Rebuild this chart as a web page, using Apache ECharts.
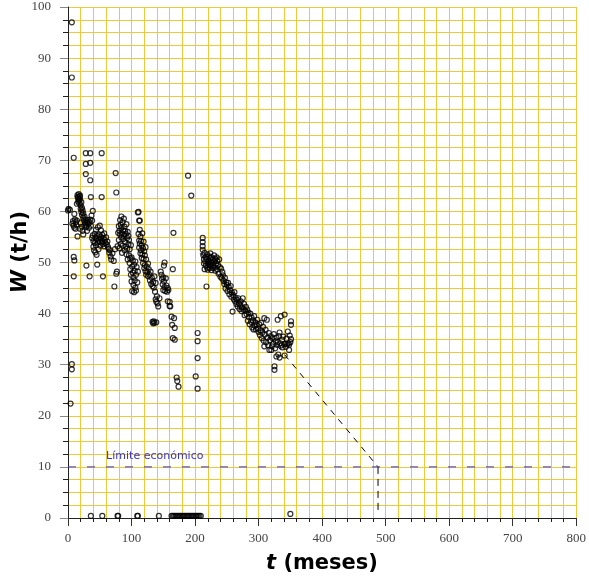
<!DOCTYPE html>
<html>
<head>
<meta charset="utf-8">
<script src="https://cdn.jsdelivr.net/npm/echarts@6/dist/echarts.min.js"></script>
<style>
    html, body {margin: 0; padding: 0; background: #fff;}
    #container {width: 589px; height: 578px;}
</style>
</head>
<body>
<div id="container"></div>
<script>
// axes
var xMax = 800, xStep = 100, xGridStep = 20;
var yMax = 100, yStep = 10, yGridStep = 2.5;

// mediciones (t, W)
var ptsInicio = [
    [0,60.2],[1,60.5],[3,60.3],[4,22.4],[6,30.1],[6,29.1],[6,86.2],[6,97],[9,70.5],[10,59.5],[9,51.1],[10,50.4],[9,47.3],
    [7,57.6],[8,58.1],[9,57.2],[10,56.8],[11,58.4],[12,57.9],[12,56.6],[13,57.4],[14,58.2],[14,61.5],[15,62.8],[15,63.2],
    [16,62.6],[16,61.9],[17,63.4],[17,62.2],[18,62.9],[18,61.6],[19,63.1],[19,62.4],[20,61.2],[20,60.5],[21,61.8],[21,59.9],
    [22,60.7],[22,59.3],[23,60.2],[24,58.8],[24,59.6],[25,58.2],[26,57.4],[26,59.0],[27,57.8],[28,56.9],[28,58.4],[29,57.2],
    [30,57.9],[30,56.2],[31,58.3],[32,57.5],[33,56.8],[34,57.9],[35,58.4],[36,57.2],[19,56.6],[20,57.8],[22,57.0],[23,56.2],
    [24,55.5],[15,55.1],[28,71.4],[28,69.3],[28,67.3],[35,71.4],[35,69.5],[35,66.1],[36,62.8],[34,47.3],[29,49.4],[38,58.2],
    [39,60.1],[37,59.2]
];
var ptsA = [
    [38,54.8],[39,55.3],[40,54.2],[40,53.1],[41,52.4],[42,55.6],[42,53.8],[43,54.9],[43,52.0],[44,56.4],[44,53.4],[45,54.6],
    [45,51.5],[46,55.2],[46,49.6],[47,53.9],[47,56.9],[48,54.5],[48,52.6],[49,55.5],[50,54.1],[50,57.2],[51,53.3],[51,55.0],
    [52,54.7],[52,56.3],[53,53.9],[53,62.8],[53,71.4],[54,55.4],[54,54.2],[55,53.6],[55,47.3],[56,54.8],[57,53.2],[57,55.7],
    [58,54.4],[59,53.8],[60,54.9],[61,53.5],[62,54.1],[63,53.0],[64,52.6],[65,51.9],[66,52.4],[67,51.2],[68,50.6],[70,51.8],
    [72,50.3],[73,45.3],[74,52.6],[76,47.8],[77,48.2],[75,67.5],[76,63.7]
];
var ptsB = [
    [78,53.2],[79,55.8],[80,57.1],[80,54.4],[81,56.2],[81,52.8],[82,58.3],[82,55.5],[83,57.4],[83,53.6],[84,59.0],[84,56.8],
    [84,54.9],[85,55.7],[85,51.9],[86,57.9],[86,53.3],[87,56.3],[87,54.6],[88,58.6],[88,55.2],[89,52.4],[89,57.0],[90,54.0],
    [90,56.2],[91,53.1],[91,55.6],[92,57.5],[92,51.6],[93,54.8],[93,52.7],[94,56.0],[94,50.6],[95,53.6],[95,55.2],[96,51.4],
    [96,54.4],[97,49.9],[97,52.6],[98,50.8],[98,48.7],[99,53.4],[99,47.6],[100,51.0],[100,46.3],[101,49.2],[101,44.4],
    [102,48.0],[102,50.4],[103,45.6],[103,47.1],[104,44.2],[104,49.6],[105,46.5],[105,48.4],[106,45.1],[106,50.2],[107,47.6],
    [107,44.5],[108,49.1],[109,46.1],[110,48.2],[110,59.8],[111,59.9],[112,58.2],[113,58.2]
];
var ptsC = [
    [111,55.6],[112,54.3],[112,52.9],[113,56.4],[113,53.7],[114,55.1],[114,51.8],[115,54.2],[115,52.4],[116,53.3],[116,50.9],
    [117,55.7],[117,51.6],[118,52.8],[118,49.9],[119,54.1],[119,50.7],[120,52.2],[120,48.9],[121,51.4],[121,49.5],[122,53.0],
    [122,48.3],[123,50.6],[123,47.6],[124,49.2],[125,48.1],[126,47.3],[126,49.8],[127,48.7],[128,47.6],[129,46.5],[130,48.2],
    [131,45.8],[132,47.0],[133,45.4],[134,46.2],[135,45.1],[136,47.3],[137,44.3],[138,46.0],[133,38.4],[134,38.1],[135,38.5],
    [136,38.2],[138,42.8],[139,42.3],[140,43.4],[141,42.0],[142,41.4],[144,43.0],[139,38.3],
    [146,48.2],[147,47.6],[148,46.8],[149,45.7],[150,44.6],[150,47.1],[151,49.4],[151,46.3],[152,50.0],[152,45.2],[153,44.4],
    [154,46.9],[155,45.5],[156,44.3],[157,45.0],[157,42.4],[158,44.6],[160,41.5],[160,42.3],[161,41.4],[163,39.4],[164,37.8],
    [165,48.7],[165,35.2],[166,55.8],[167,39.1],[168,37.2],[168,34.9],[171,27.5],[172,26.8],[174,25.7]
];
var ptsD = [
    [189,67.0],[194,63.1],[201,27.7],[204,25.3],[204,36.2],[204,34.6],[204,31.3],[212,54.8],[212,54.0],[212,53.2],[212,52.5],
    [213,51.4],[214,50.6],[214,49.8],[215,51.9],[215,48.7],[216,50.2],[217,49.4],[217,51.1],[218,45.3],[218,50.7],[219,49.0],
    [219,51.6],[220,50.1],[220,48.6],[221,49.7],[222,51.2],[222,50.4],[223,48.9],[223,49.6],[224,50.8],[224,51.8],[225,49.3],
    [225,50.0],[226,48.5],[226,51.0],[227,49.9],[228,50.6],[228,48.9],[229,49.5],[230,51.4],[230,50.2],[231,49.0],[232,50.7],
    [232,48.4],[233,49.8],[234,51.0],[235,50.3],[235,48.7],[236,49.5],[237,47.8],[238,50.6],[239,49.1],[240,47.2],[241,48.8],
    [242,46.9],[243,48.1],[244,47.5],[245,46.4],[246,45.8],[247,47.0],[248,44.9],[249,46.1]
];
var ptsE = [
    [250,45.6],[251,44.4],[252,46.0],[253,45.2],[254,43.8],[255,44.6],[256,45.4],[257,43.3],[258,44.1],[259,40.4],[260,43.6],
    [261,42.8],[262,44.2],[263,42.4],[264,43.1],[265,41.9],[266,42.7],[267,41.4],[268,43.0],[269,42.0],[270,40.9],[271,41.7],
    [272,42.4],[273,40.5],[274,41.2],[275,43.0],[276,40.8],[277,41.9],[278,39.7],[279,40.6],[280,41.3],[281,39.9],[282,40.8],
    [283,38.6],[284,40.2],[285,39.3],[286,37.9],[287,40.0],[288,38.4],[289,39.2],[290,37.3],[291,38.7],[292,36.9],[293,39.5],
    [294,37.6],[295,38.3],[296,36.9],[297,37.8],[298,38.8],[299,37.1],[300,36.4]
];
var ptsF = [
    [301,37.9],[302,35.8],[303,36.7],[304,38.2],[305,35.2],[306,36.3],[307,37.4],[308,34.7],[309,39.1],[309,33.6],[310,35.9],
    [311,36.8],[312,34.4],[313,38.8],[314,35.3],[315,33.8],[316,36.2],[317,32.9],[318,34.8],[319,35.6],[320,32.9],[321,33.6],
    [322,35.2],[323,34.1],[324,36.0],[325,29.7],[325,29.0],[326,33.2],[327,34.6],[328,31.6],[328,35.3],[329,33.9],[330,38.8],
    [330,34.4],[331,32.0],[332,35.6],[333,36.3],[333,31.4],[334,34.2],[335,39.5],[336,33.8],[337,34.9],[338,33.4],[339,35.5],
    [340,34.0],[341,31.8],[341,39.8],[342,34.1],[343,33.5],[344,35.1],[345,34.0],[346,36.5],[347,34.2],[348,32.9],[348,33.9],
    [349,35.7],[350,34.4],[351,37.8],[351,38.5],[351,35.0]
];
// paradas (W ~ 0)
var ptsCero = [
    [36,0.4],[54,0.4],[78,0.4],[79,0.4],[109,0.4],[110,0.4],[143,0.4],[163,0.4],[165,0.4],[167,0.4],[169,0.4],[171,0.4],
    [173,0.4],[175,0.4],[177,0.4],[179,0.4],[181,0.4],[183,0.4],[185,0.4],[187,0.4],[189,0.4],[191,0.4],[193,0.4],[195,0.4],
    [197,0.4],[199,0.4],[201,0.4],[203,0.4],[205,0.4],[207,0.4],[209,0.4],[350,0.8]
];

// tendencia y limite economico
var tendencia = [[208, 51.8], [488, 10]];
var caida = [[488, 10], [488, 0.8]];
var limite = 10;
var limiteTexto = 'Límite económico';

var dom = document.getElementById("container");
var myChart = echarts.init(dom);

var gridColor = '#F0C83C';
var puntos = {
    type: 'scatter',
    symbol: 'circle',
    symbolSize: 5,
    itemStyle: {color: 'rgba(255,255,255,0)', borderColor: '#000', borderWidth: 1.2},
    z: 5
};
var series = [ptsInicio, ptsA, ptsB, ptsC, ptsD, ptsE, ptsF, ptsCero].map(function (d) {
    return Object.assign({}, puntos, {data: d});
});
series.push({
    type: 'line', data: tendencia, symbol: 'none', silent: true, z: 3,
    lineStyle: {color: '#000', width: 1, type: [6, 6]}
});
series.push({
    type: 'line', data: caida, symbol: 'none', silent: true, z: 3,
    lineStyle: {color: '#000', width: 1, type: [7, 5]}
});
series.push({
    type: 'line', data: [[0, limite], [xMax, limite]], symbol: 'none', silent: true, z: 3,
    lineStyle: {color: '#3434D0', width: 1, type: [8, 11]}
});

var option = {
    animation: false,
    grid: {left: 68, right: 12, top: 7, bottom: 60, containLabel: false},
    xAxis: [
        {
            // rejilla fina
            type: 'value', min: 0, max: xMax, interval: xGridStep,
            axisLine: {onZero: false, lineStyle: {color: '#222', width: 1}},
            axisTick: {length: 4, lineStyle: {color: '#222'}},
            splitLine: {show: true, lineStyle: {color: gridColor, width: 1}},
            axisLabel: {show: false}
        },
        {
            type: 'value', min: 0, max: xMax, interval: xStep, position: 'bottom',
            axisLine: {show: false},
            axisTick: {show: true, length: 8, lineStyle: {color: '#333'}},
            splitLine: {show: false},
            axisLabel: {margin: 14, color: '#444', fontFamily: 'Liberation Serif', fontSize: 13}
        }
    ],
    yAxis: [
        {
            type: 'value', min: 0, max: yMax, interval: yGridStep,
            axisLine: {show: true, onZero: false, lineStyle: {color: '#222', width: 1}},
            axisTick: {show: true, length: 5, lineStyle: {color: '#222'}},
            splitLine: {show: true, lineStyle: {color: gridColor, width: 1}},
            axisLabel: {show: false}
        },
        {
            type: 'value', min: 0, max: yMax, interval: yStep, position: 'left',
            axisLine: {show: false},
            axisTick: {show: true, length: 8, lineStyle: {color: '#888'}},
            splitLine: {show: false},
            axisLabel: {margin: 17, color: '#444', fontFamily: 'Liberation Serif', fontSize: 13}
        }
    ],
    series: series
};

if (option && typeof option === 'object') {
    myChart.setOption(option);
}

// textos
var pLim = myChart.convertToPixel({gridIndex: 0}, [60, limite + 2.1]);
myChart.setOption({
    graphic: [
        {
            type: 'text', x: pLim[0], y: pLim[1], z: 10,
            style: {text: limiteTexto, fill: '#3434D0', font: '11px "DejaVu Sans"', align: 'left', verticalAlign: 'middle'}
        },
        {
            type: 'text', x: 322, y: 564, z: 10,
            style: {
                text: '{i|t} (meses)', align: 'center', verticalAlign: 'middle', fill: '#000',
                font: 'bold 21px "DejaVu Sans"',
                rich: {i: {fontStyle: 'italic', fontWeight: 'bold', fontSize: 21, fontFamily: 'DejaVu Sans'}}
            }
        },
        {
            type: 'text', x: 21, y: 252, z: 10, rotation: Math.PI / 2,
            style: {
                text: '{i|W} (t/h)', align: 'center', verticalAlign: 'middle', fill: '#000',
                font: 'bold 21px "DejaVu Sans"',
                rich: {i: {fontStyle: 'italic', fontWeight: 'bold', fontSize: 21, fontFamily: 'DejaVu Sans'}}
            }
        }
    ]
});
</script>
</body>
</html>
